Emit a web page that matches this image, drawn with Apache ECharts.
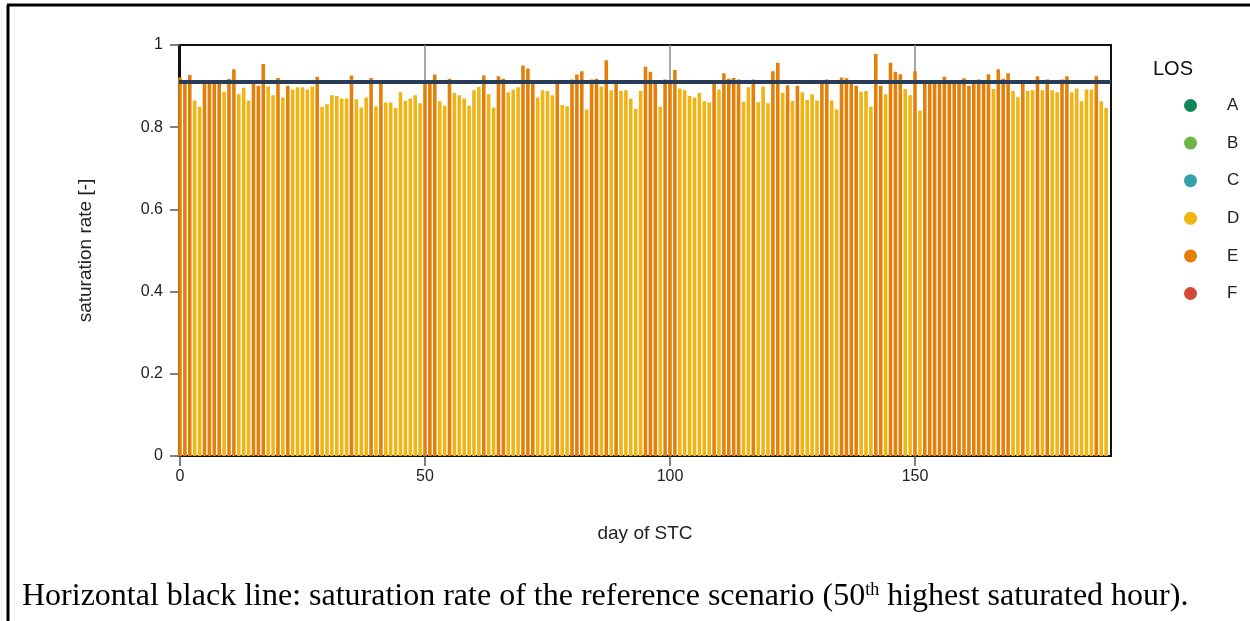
<!DOCTYPE html>
<html lang="en">
<head>
<meta charset="UTF-8" />
<title>saturation rate per day of STC</title>
<script src="https://cdn.jsdelivr.net/npm/echarts@6/dist/echarts.min.js"></script>
<style>
  html, body { margin: 0; padding: 0; background: #fff; }
  #main { width: 1250px; height: 621px; }
</style>
</head>
<body>
<div id="main"></div>
<script type="text/javascript">
// saturation rate per day (day index = position in the array, 0..189)
var satRate = [
  0.921,0.91,0.927,0.865,0.85,0.91,0.91,0.912,0.915,0.886,0.917,0.941,0.88,0.896,0.865,0.905,0.901,0.954,0.899,0.878,0.92,0.872,0.901,0.892,
  0.897,0.897,0.892,0.899,0.923,0.85,0.856,0.878,0.876,0.87,0.87,0.926,0.868,0.848,0.872,0.92,0.851,0.91,0.86,0.86,0.847,0.885,0.864,0.87,
  0.878,0.858,0.91,0.91,0.928,0.864,0.852,0.918,0.883,0.878,0.87,0.852,0.89,0.898,0.926,0.88,0.848,0.924,0.918,0.885,0.892,0.897,0.95,0.943,
  0.91,0.872,0.89,0.888,0.878,0.905,0.854,0.851,0.916,0.928,0.936,0.843,0.916,0.918,0.899,0.963,0.89,0.91,0.888,0.89,0.87,0.844,0.888,0.947,
  0.935,0.91,0.85,0.916,0.91,0.939,0.894,0.89,0.876,0.872,0.883,0.863,0.86,0.905,0.892,0.931,0.918,0.92,0.916,0.862,0.897,0.916,0.861,0.899,
  0.858,0.936,0.957,0.884,0.902,0.864,0.901,0.885,0.866,0.88,0.865,0.91,0.916,0.865,0.843,0.921,0.919,0.91,0.901,0.886,0.888,0.85,0.978,0.901,
  0.88,0.957,0.935,0.929,0.893,0.878,0.936,0.84,0.912,0.91,0.91,0.91,0.923,0.91,0.91,0.91,0.919,0.901,0.91,0.916,0.91,0.929,0.893,0.941,
  0.918,0.931,0.888,0.873,0.905,0.888,0.89,0.924,0.89,0.916,0.89,0.885,0.916,0.924,0.885,0.894,0.863,0.892,0.892,0.924,0.863,0.847
];
// LOS classes in the legend and their colours
var losNames = ['A', 'B', 'C', 'D', 'E', 'F'];
var losColors = ['#108658', '#6fb446', '#2fa3a6', '#f0b414', '#e4800a', '#d14a38'];
var xTicks = [0, 50, 100, 150];
var refRate = 0.91;   // reference scenario (50th highest saturated hour)

// level E from 0.9 up, D below (as coloured in the picture)
function losOf(v) { return v >= 0.9 ? 'E' : 'D'; }

var barData = [];
for (var i = 0; i < satRate.length; i++) {
  barData.push({
    value: [i, satRate[i]],
    itemStyle: { color: losColors[losNames.indexOf(losOf(satRate[i]))] }
  });
}

var series = [];
for (var k = 0; k < losNames.length; k++) {
  // empty series: only feed the legend
  series.push({ name: losNames[k], type: 'scatter', data: [], itemStyle: { color: losColors[k], opacity: 1 } });
}
series.push({
  name: 'rate',
  type: 'bar',
  data: barData,
  barWidth: 3.6,
  animation: false,
  markLine: {
    silent: true,
    symbol: ['none', 'none'],
    label: { show: false },
    lineStyle: { color: '#283c57', width: 4, type: 'solid' },
    data: [{ yAxis: refRate }]
  }
});

var txt = '#222';
var chart = echarts.init(document.getElementById('main'));
chart.setOption({
  animation: false,
  textStyle: { fontFamily: 'Liberation Sans, Arial, sans-serif' },
  title: {
    text: 'LOS', left: 1148, top: 54,
    textStyle: { fontSize: 20, fontWeight: 'normal', color: '#111' }
  },
  legend: {
    data: losNames,
    orient: 'vertical',
    left: 1179, top: 92,
    icon: 'circle',
    itemWidth: 13, itemHeight: 13,
    itemGap: 20.6,
    itemStyle: { opacity: 1 },
    textStyle: { fontSize: 17, color: txt, lineHeight: 14, padding: [0, 0, 0, 25] }
  },
  grid: {
    left: 179, right: 139, top: 45, bottom: 165,
    show: true, borderColor: '#111', borderWidth: 2, backgroundColor: '#fff'
  },
  xAxis: {
    type: 'value', min: -0.2, max: 190,
    name: 'day of STC', nameLocation: 'middle', nameGap: 68,
    nameTextStyle: { fontSize: 19, color: txt },
    axisLine: { show: true, lineStyle: { color: '#111', width: 2 } },
    axisTick: { show: true, length: 10, customValues: xTicks, lineStyle: { color: '#555', width: 1.5 } },
    axisLabel: { fontSize: 16, color: txt, margin: 13, customValues: xTicks },
    splitLine: { show: true, lineStyle: { color: '#8a8a8a', width: 1.5 } }
  },
  yAxis: {
    type: 'value', min: 0, max: 1, interval: 0.2,
    name: 'saturation rate [-]', nameLocation: 'middle', nameGap: 84,
    nameTextStyle: { fontSize: 19, color: txt },
    axisLine: { show: true, lineStyle: { color: '#111', width: 2 } },
    axisTick: { show: true, length: 10, lineStyle: { color: '#555', width: 1.5 } },
    axisLabel: { fontSize: 16, color: txt, margin: 16 },
    splitLine: { show: false }
  },
  graphic: [
    { type: 'line', shape: { x1: 7, y1: 5, x2: 1250, y2: 5 }, style: { stroke: '#000', lineWidth: 3 } },
    { type: 'line', shape: { x1: 8, y1: 5, x2: 8, y2: 621 }, style: { stroke: '#000', lineWidth: 3 } },
    {
      type: 'text', left: 22, top: 581,
      style: {
        text: 'Horizontal black line: saturation rate of the reference scenario (50{sup|th} highest saturated hour).',
        font: '32px "Liberation Serif", "Times New Roman", serif',
        fill: '#000',
        rich: { sup: { fontSize: 18, fontFamily: 'Liberation Serif', verticalAlign: 'top', fill: '#000' } }
      }
    }
  ],
  series: series
});
</script>
</body>
</html>
